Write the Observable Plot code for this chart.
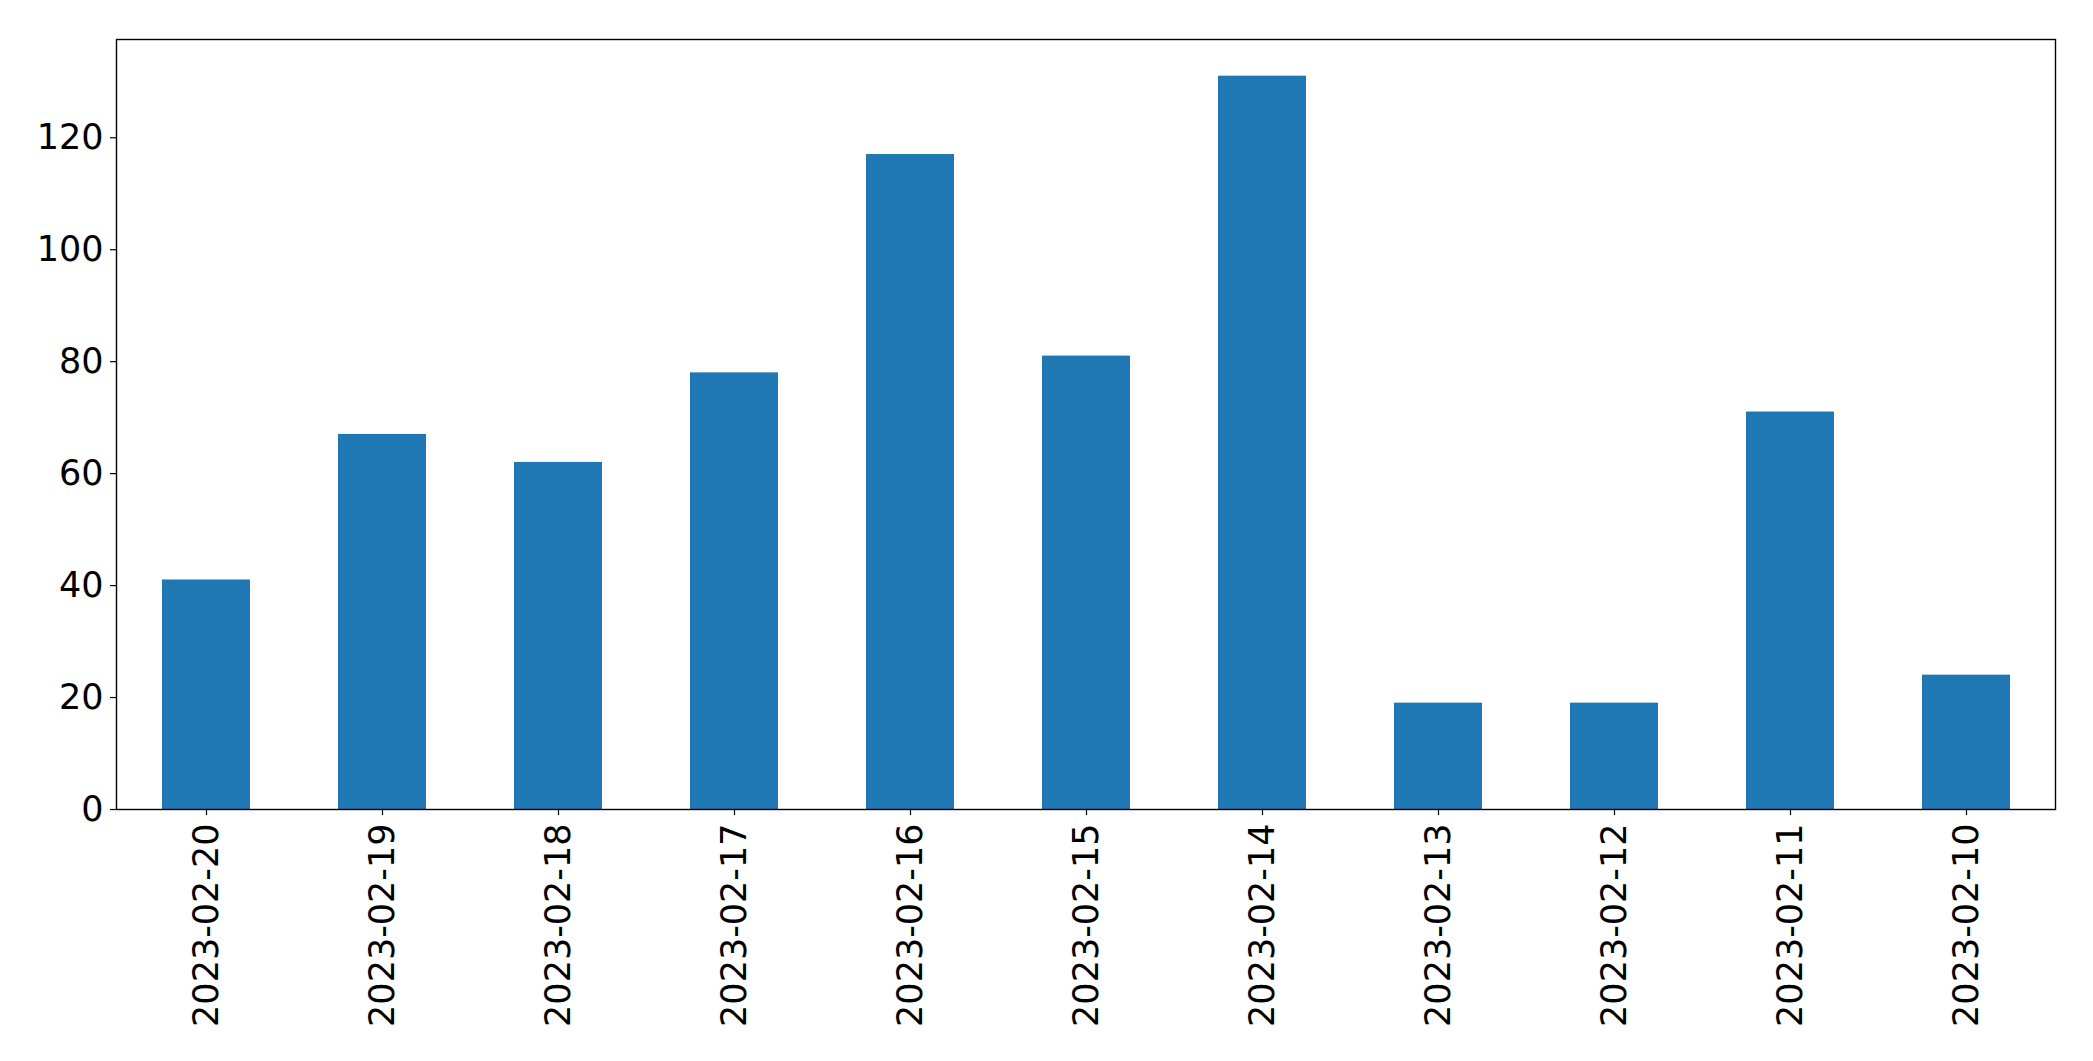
<!DOCTYPE html>
<html>
<head>
<meta charset="utf-8">
<script src="https://cdn.jsdelivr.net/npm/d3@7"></script>
<script src="https://cdn.jsdelivr.net/npm/@observablehq/plot@0.6"></script>
<style>
  html, body { margin: 0; padding: 0; background: #fff; }
  #chart svg { display: block; }
</style>
</head>
<body>
<div id="chart"></div>
<script>
const dates = ["2023-02-20","2023-02-19","2023-02-18","2023-02-17","2023-02-16","2023-02-15","2023-02-14","2023-02-13","2023-02-12","2023-02-11","2023-02-10"];
const counts = [41, 67, 62, 78, 117, 81, 131, 19, 19, 71, 24];
const yTicks = [0, 20, 40, 60, 80, 100, 120];

const data = dates.map((d, i) => ({date: d, count: counts[i]}));
const yMax = d3.max(counts) * 1.05;

const chart = Plot.plot({
  width: 2093,
  height: 1061,
  marginLeft: 116,
  marginRight: 38,
  marginTop: 39,
  marginBottom: 252,
  style: {fontFamily: "DejaVu Sans", fontSize: "35px", color: "black", background: "white"},
  x: {domain: dates, paddingInner: 0.5, paddingOuter: 0.25, label: null},
  y: {domain: [0, yMax], label: null},
  marks: [
    Plot.barY(data, {x: "date", y: "count", fill: "#1f77b4"}),
    Plot.axisX({tickRotate: -90, tickSize: 6, tickPadding: 8, fontSize: 35, label: null, stroke: "black", strokeWidth: 1.2}),
    Plot.axisY({ticks: yTicks, tickSize: 6, tickPadding: 7, fontSize: 35, label: null, stroke: "black", strokeWidth: 1.2}),
    Plot.frame({stroke: "black", strokeWidth: 1.4})
  ]
});
document.getElementById("chart").appendChild(chart);
</script>
</body>
</html>
